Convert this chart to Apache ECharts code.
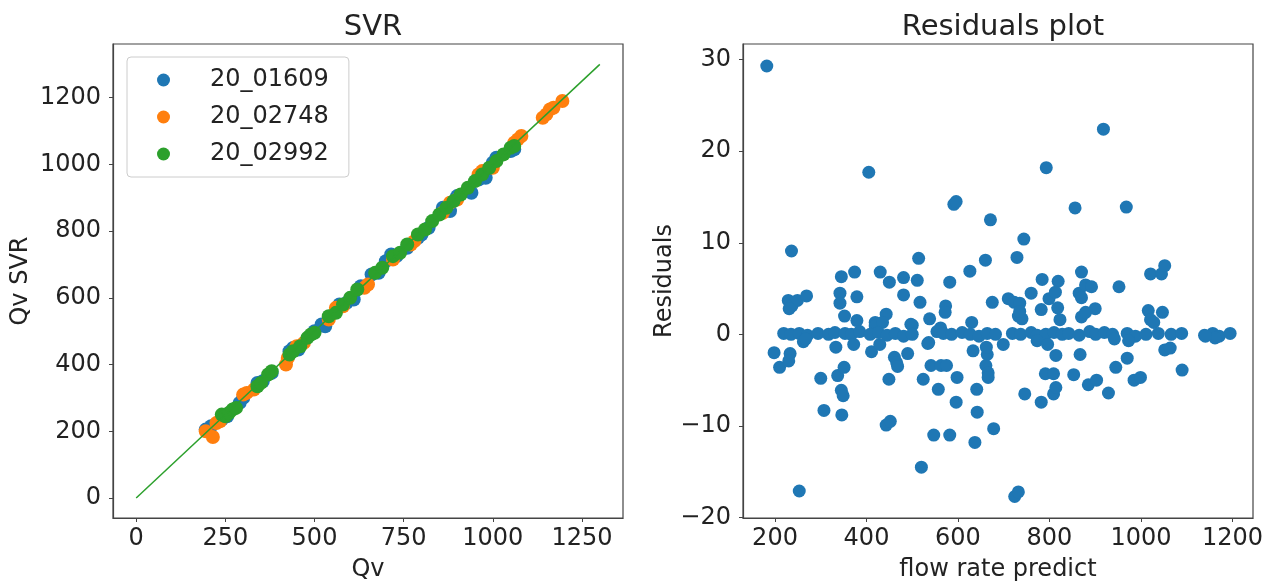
<!DOCTYPE html>
<html>
<head>
<meta charset="utf-8">
<script src="https://cdn.jsdelivr.net/npm/echarts@6/dist/echarts.min.js"></script>
<style>
	html, body {margin:0; padding:0; background:#fff;}
	#main {width:1275px; height:587px;}
</style>
</head>
<body>
<div id="main"></div>
<script>
// 左图：Qv vs Qv SVR，三个井号
var names = ['20_01609', '20_02748', '20_02992'];
var colors = ['#1f77b4', '#ff7f0e', '#2ca02c'];

var s01609 = [[195,205],[210,215],[240,235],[255,245],[290,285],[300,300],[340,345],[355,350],[380,375],
	[430,440],[440,450],[455,445],[500,500],[520,520],[530,515],[570,580],[590,585],[610,595],[630,635],
	[660,670],[680,675],[700,710],[715,730],[730,725],[760,750],[790,780],[800,790],[820,810],[860,870],
	[880,860],[900,905],[940,915],[960,955],[980,960],[1000,1005],[1010,1020],[1050,1040],[1060,1045]];
var s02748 = [[195,200],[215,183],[225,225],[235,230],[300,310],[310,315],[330,325],[420,400],[425,420],
	[450,455],[470,465],[540,535],[560,570],[580,575],[640,630],[650,640],[720,715],[770,760],[780,770],
	[860,855],[880,885],[900,895],[960,970],[970,980],[1000,990],[1060,1065],[1070,1075],[1080,1085],
	[1140,1140],[1150,1150],[1160,1165],[1170,1170],[1195,1190]];
var s02992 = [[240,250],[250,245],[260,255],[270,265],[280,270],[340,335],[350,345],[370,370],[380,380],
	[430,430],[440,440],[460,455],[480,480],[490,490],[500,495],[540,545],[560,555],[580,580],[600,600],
	[620,625],[670,675],[690,690],[720,725],[740,735],[760,760],[790,790],[810,805],[830,830],[850,850],
	[870,870],[890,890],[910,910],[930,930],[950,950],[970,970],[990,990],[1010,1010],[1030,1030],
	[1050,1050],[1060,1055]];
var fitLine = [[0,0],[1300,1300]];

// 右图：残差
var residuals = [
	[182,29.3],[918,22.4],[405,17.7],[793,18.2],[591,14.2],[596,14.5],[856,13.8],[968,13.9],[671,12.5],
	[744,10.4],[236,9.1],[514,8.3],[660,8.1],[729,8.4],[626,6.9],[374,6.8],[345,6.3],[430,6.8],[450,5.7],
	[481,6.2],[511,5.9],[582,5.7],[784,6.0],[819,5.8],[870,6.8],[1021,6.6],[1045,6.6],[1052,7.5],[952,5.2],
	[229,3.7],[237,3.1],[249,3.7],[269,4.2],[231,2.8],[342,4.5],[342,3.4],[379,4.1],[481,4.3],[517,3.5],
	[573,3.1],[572,2.4],[675,3.5],[710,3.9],[723,3.5],[735,3.4],[760,4.5],[799,3.9],[813,4.6],[782,2.7],
	[865,4.5],[879,5.4],[892,5.2],[870,4.0],[900,2.8],[1016,2.6],[1047,2.4],[352,2.0],[379,1.5],[419,1.3],
	[443,2.2],[497,1.1],[538,1.7],[630,1.3],[732,2.0],[740,1.7],[823,1.6],[870,1.9],[879,2.4],[1021,1.6],
	[419,0.9],[435,1.3],[500,1.0],[562,0.7],[735,2.5],[818,2.9],[1028,1.3],
	[219,0.1],[235,0.0],[253,0.1],[271,-0.1],[294,0.1],[317,0.0],[331,0.2],[353,0.1],[367,0.0],[385,0.3],
	[408,0.0],[426,0.2],[445,-0.1],[463,0.1],[481,-0.2],[500,0.0],[554,0.3],[568,0.1],[586,0.0],[609,0.2],
	[627,0.0],[646,-0.2],[664,0.1],[682,0.0],[719,0.1],[737,0.0],[760,0.2],[773,-0.1],[792,0.0],[810,0.2],
	[828,0.0],[842,0.1],[865,-0.1],[888,0.3],[901,0.0],[920,0.2],[938,0.0],[970,0.1],[988,-0.2],[1011,0.0],
	[1038,0.1],[1066,0.0],[1089,0.1],[1139,-0.1],[1157,0.1],[1171,-0.2],[1195,0.1],
	[262,-0.8],[372,-1.1],[267,-0.5],[942,-0.5],[973,-0.7],[1162,-0.4],[1141,-0.2],[773,-0.7],[796,-1.1],
	[699,-1.1],[536,-0.9],
	[198,-2.0],[210,-3.6],[233,-2.1],[230,-2.9],[333,-1.4],[411,-1.9],[429,-1.1],[461,-2.5],[466,-3.1],
	[468,-3.5],[490,-2.1],[534,-1.0],[541,-3.4],[563,-3.4],[575,-3.4],[524,-4.9],[557,-6.0],[598,-4.7],
	[596,-7.4],[633,-1.8],[641,-6.0],[642,-8.5],[637,-11.8],[661,-3.4],[666,-4.2],[666,-4.7],[664,-2.2],
	[662,-1.4],[678,-10.3],[547,-11.0],[582,-11.0],[520,-14.5],[253,-17.1],[724,-17.7],[732,-17.2],
	[746,-6.5],[782,-7.4],[791,-4.3],[809,-4.3],[809,-6.5],[814,-5.8],[814,-2.3],[853,-4.4],[867,-2.2],
	[885,-5.5],[903,-5.0],[929,-6.4],[945,-3.6],[970,-2.6],[985,-5.0],[999,-4.7],[1052,-1.7],[1064,-1.5],
	[1090,-3.9],[300,-4.8],[307,-8.3],[337,-4.5],[351,-3.6],[345,-6.1],[349,-6.7],[346,-8.8],[449,-4.9],
	[443,-9.9],[452,-9.5]
];

var leftTicks = [0, 250, 500, 750, 1000, 1250];
var leftYTicks = [0, 200, 400, 600, 800, 1000, 1200];
var rightTicks = [200, 400, 600, 800, 1000, 1200];
var rightYTicks = [-20, -10, 0, 10, 20, 30];

var font = 'DejaVu Sans';
var textColor = '#222';

function valueAxis(opt) {
	return {
		type: 'value',
		gridIndex: opt.grid,
		min: opt.min,
		max: opt.max,
		name: opt.name,
		nameLocation: 'middle',
		nameGap: opt.nameGap,
		nameTextStyle: {fontFamily: font, fontSize: 24, color: textColor},
		axisLine: {show: true, onZero: false, lineStyle: {color: '#444', width: 1.2}},
		axisTick: {show: true, length: 4, lineStyle: {color: '#444'}, customValues: opt.ticks},
		axisLabel: {fontFamily: font, fontSize: 24, color: textColor, margin: opt.margin, customValues: opt.ticks,
			formatter: function (v) { return v < 0 ? '\u2212' + Math.abs(v) : '' + v; }},
		splitLine: {show: false}
	};
}

var chart = echarts.init(document.getElementById('main'));
var option = {
	backgroundColor: '#fff',
	animation: false,
	title: [
		{text: 'SVR', left: 368, top: 8, textAlign: 'center',
			textStyle: {fontFamily: font, fontSize: 29, fontWeight: 'normal', color: textColor}},
		{text: 'Residuals plot', left: 998, top: 8, textAlign: 'center',
			textStyle: {fontFamily: font, fontSize: 29, fontWeight: 'normal', color: textColor}}
	],
	legend: {
		data: names,
		orient: 'vertical',
		left: 127,
		top: 57,
		padding: [11, 20, 11, 30],
		itemGap: 13,
		itemWidth: 13,
		itemHeight: 13,
		icon: 'circle',
		borderColor: '#ccc',
		borderWidth: 1,
		borderRadius: 4,
		textStyle: {fontFamily: font, fontSize: 24, color: textColor, padding: [0, 0, 0, 35]}
	},
	grid: [
		{left: 113, top: 44, width: 510, height: 479, show: true, borderColor: '#444', borderWidth: 1.2},
		{left: 743, top: 44, width: 510, height: 479, show: true, borderColor: '#444', borderWidth: 1.2}
	],
	xAxis: [
		valueAxis({grid: 0, min: -65, max: 1365, ticks: leftTicks, name: 'Qv', nameGap: 40, margin: 9}),
		valueAxis({grid: 1, min: 130, max: 1245, ticks: rightTicks, name: 'flow rate predict', nameGap: 40, margin: 9})
	],
	yAxis: [
		valueAxis({grid: 0, min: -60, max: 1361, ticks: leftYTicks, name: 'Qv SVR', nameGap: 80, margin: 12}),
		valueAxis({grid: 1, min: -20.05, max: 31.7, ticks: rightYTicks, name: 'Residuals', nameGap: 66, margin: 12})
	],
	series: [
		{name: names[0], type: 'scatter', xAxisIndex: 0, yAxisIndex: 0, data: s01609, symbolSize: 14,
			itemStyle: {color: colors[0], opacity: 1}},
		{name: names[1], type: 'scatter', xAxisIndex: 0, yAxisIndex: 0, data: s02748, symbolSize: 14,
			itemStyle: {color: colors[1], opacity: 1}},
		{name: names[2], type: 'scatter', xAxisIndex: 0, yAxisIndex: 0, data: s02992, symbolSize: 14,
			itemStyle: {color: colors[2], opacity: 1}},
		{name: 'fit', type: 'line', xAxisIndex: 0, yAxisIndex: 0, data: fitLine, showSymbol: false,
			lineStyle: {color: colors[2], width: 1.5}, z: 5},
		{name: 'residuals', type: 'scatter', xAxisIndex: 1, yAxisIndex: 1, data: residuals, symbolSize: 13,
			itemStyle: {color: colors[0], opacity: 1}}
	]
};
chart.setOption(option);
</script>
</body>
</html>
